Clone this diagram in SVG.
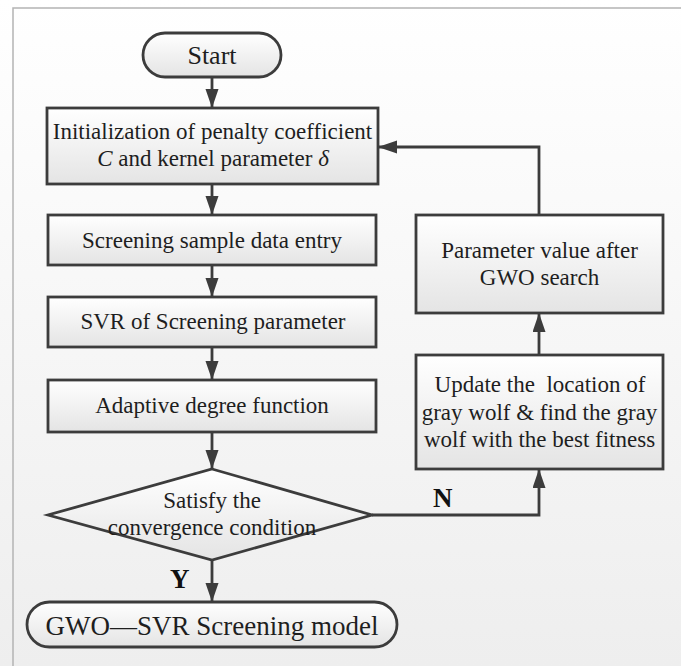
<svg xmlns="http://www.w3.org/2000/svg" width="681" height="666" viewBox="0 0 681 666">
<defs>
<linearGradient id="bg" x1="0" y1="0" x2="0" y2="1">
<stop offset="0" stop-color="#ffffff"/>
<stop offset="1" stop-color="#eeeeee"/>
</linearGradient>
<linearGradient id="box" x1="0" y1="0" x2="0" y2="1">
<stop offset="0" stop-color="#ffffff"/>
<stop offset="1" stop-color="#e4e4e4"/>
</linearGradient>
<marker id="ah" markerUnits="userSpaceOnUse" markerWidth="20" markerHeight="14" refX="19" refY="6.5" orient="auto">
<path d="M0,0 L19,6.5 L0,13 z" fill="#3c3c3c"/>
</marker>
<style>
.n{fill:url(#box);stroke:#3c3c3c;stroke-width:2.8}
.t{font-family:"Liberation Serif","Times New Roman",serif;font-size:23px;fill:#1e1e1e;text-anchor:middle}
.c{fill:none;stroke:#3c3c3c;stroke-width:2.8}
.l{font-family:"Liberation Serif","Times New Roman",serif;font-size:27px;font-weight:bold;fill:#111}
</style>
</defs>
<rect x="0" y="0" width="681" height="666" fill="url(#bg)"/>
<path d="M13,666 L13,8 L681,8" fill="none" stroke="#b4b4b4" stroke-width="1.5"/>

<g id="start">
<rect class="n" x="143" y="33" width="138" height="44" rx="22"/>
<text class="t" x="212" y="64" style="font-size:26px">Start</text>
</g>
<g id="init">
<rect class="n" x="47" y="108" width="331" height="76"/>
<text class="t" x="212.5" y="139">Initialization of penalty coefficient</text>
<text class="t" x="213" y="166"><tspan font-style="italic">C</tspan> and kernel parameter <tspan font-style="italic">δ</tspan></text>
</g>
<g id="screening">
<rect class="n" x="48" y="215" width="328" height="50"/>
<text class="t" x="212" y="248">Screening sample data entry</text>
</g>
<g id="svr">
<rect class="n" x="48" y="297" width="328" height="50"/>
<text class="t" x="213" y="329">SVR of Screening parameter</text>
</g>
<g id="adaptive">
<rect class="n" x="48" y="380" width="328" height="52"/>
<text class="t" x="212" y="413">Adaptive degree function</text>
</g>
<g id="decision">
<polygon class="n" points="212,469 372,515 212,560 48,515"/>
<text class="t" x="212" y="508">Satisfy the</text>
<text class="t" x="212" y="535">convergence condition</text>
</g>
<g id="model">
<rect class="n" x="27" y="602" width="370" height="45" rx="22.5"/>
<text class="t" x="212" y="635" style="font-size:27px">GWO—SVR Screening model</text>
</g>
<g id="param">
<rect class="n" x="416" y="215" width="247" height="98"/>
<text class="t" x="539.5" y="258">Parameter value after</text>
<text class="t" x="539.5" y="285">GWO search</text>
</g>
<g id="update">
<rect class="n" x="416" y="355" width="247" height="114"/>
<text class="t" x="540" y="392" xml:space="preserve">Update the  location of</text>
<text class="t" x="539.5" y="420">gray wolf &amp; find the gray</text>
<text class="t" x="539.5" y="447">wolf with the best fitness</text>
</g>

<g id="connectors">
<line class="c" x1="212" y1="77" x2="212" y2="108" marker-end="url(#ah)"/>
<line class="c" x1="212" y1="184" x2="212" y2="215" marker-end="url(#ah)"/>
<line class="c" x1="212" y1="265" x2="212" y2="297" marker-end="url(#ah)"/>
<line class="c" x1="212" y1="347" x2="212" y2="380" marker-end="url(#ah)"/>
<line class="c" x1="212" y1="432" x2="212" y2="469" marker-end="url(#ah)"/>
<line class="c" x1="212" y1="560" x2="212" y2="602" marker-end="url(#ah)"/>
<polyline class="c" points="372,515 539,515 539,469" marker-end="url(#ah)"/>
<line class="c" x1="539" y1="355" x2="539" y2="313" marker-end="url(#ah)"/>
<polyline class="c" points="539,215 539,147 378,147" marker-end="url(#ah)"/>
<text class="l" x="433" y="507">N</text>
<text class="l" x="170" y="588">Y</text>
</g>
</svg>
